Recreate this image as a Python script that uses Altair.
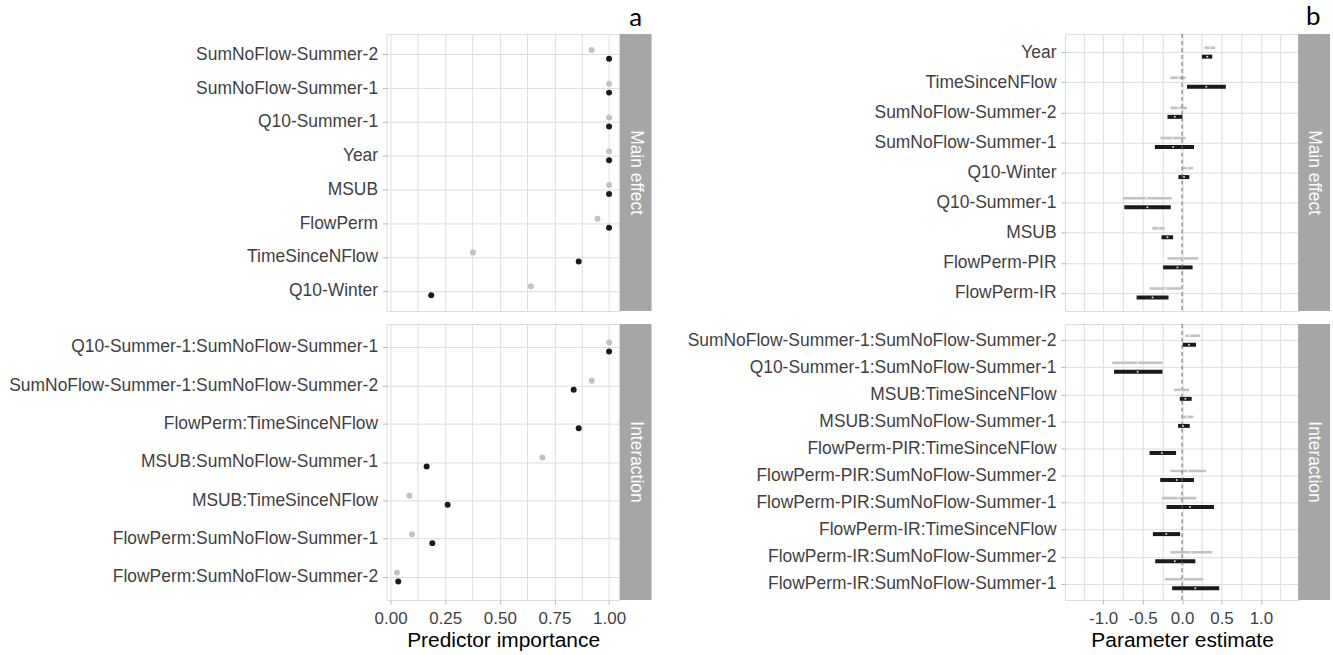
import altair as alt
import pandas as pd

# ---------------- data: panel a (predictor importance) ----------------
GROUPS = ["grey", "black"]

a_main_vars = ["SumNoFlow-Summer-2", "SumNoFlow-Summer-1", "Q10-Summer-1", "Year",
               "MSUB", "FlowPerm", "TimeSinceNFlow", "Q10-Winter"]
a_main_grey = [0.92, 1.0, 1.0, 1.0, 1.0, 0.947, 0.377, 0.642]
a_main_black = [1.0, 1.0, 1.0, 1.0, 1.0, 1.0, 0.861, 0.186]

a_int_vars = ["Q10-Summer-1:SumNoFlow-Summer-1", "SumNoFlow-Summer-1:SumNoFlow-Summer-2",
              "FlowPerm:TimeSinceNFlow", "MSUB:SumNoFlow-Summer-1", "MSUB:TimeSinceNFlow",
              "FlowPerm:SumNoFlow-Summer-1", "FlowPerm:SumNoFlow-Summer-2"]
a_int_grey = [1.0, 0.921, None, 0.695, 0.086, 0.098, 0.029]
a_int_black = [1.0, 0.838, 0.861, 0.165, 0.261, 0.191, 0.035]

a_ticks = [0.0, 0.125, 0.25, 0.375, 0.5, 0.625, 0.75, 0.875, 1.0]

# ---------------- data: panel b (parameter estimates) ----------------
b_main_vars = ["Year", "TimeSinceNFlow", "SumNoFlow-Summer-2", "SumNoFlow-Summer-1",
               "Q10-Winter", "Q10-Summer-1", "MSUB", "FlowPerm-PIR", "FlowPerm-IR"]
b_main_grey_est = [0.353, -0.05, -0.042, -0.12, 0.067, -0.45, -0.298, 0.004, -0.21]
b_main_grey_lo = [0.285, -0.147, -0.147, -0.273, 0.004, -0.749, -0.378, -0.185, -0.412]
b_main_grey_hi = [0.42, 0.046, 0.063, 0.046, 0.139, -0.131, -0.219, 0.206, -0.013]
b_main_black_est = [0.32, 0.307, -0.092, -0.113, 0.025, -0.44, -0.185, -0.059, -0.374]
b_main_black_lo = [0.252, 0.063, -0.185, -0.345, -0.046, -0.732, -0.26, -0.24, -0.576]
b_main_black_hi = [0.383, 0.555, 0.004, 0.151, 0.092, -0.143, -0.114, 0.134, -0.172]

b_int_vars = ["SumNoFlow-Summer-1:SumNoFlow-Summer-2", "Q10-Summer-1:SumNoFlow-Summer-1",
              "MSUB:TimeSinceNFlow", "MSUB:SumNoFlow-Summer-1", "FlowPerm-PIR:TimeSinceNFlow",
              "FlowPerm-PIR:SumNoFlow-Summer-2", "FlowPerm-PIR:SumNoFlow-Summer-1",
              "FlowPerm-IR:TimeSinceNFlow", "FlowPerm-IR:SumNoFlow-Summer-2",
              "FlowPerm-IR:SumNoFlow-Summer-1"]
b_int_grey_est = [0.095, -0.563, -0.008, 0.063, None, 0.076, -0.042, None, 0.109, 0.013]
b_int_grey_lo = [0.042, -0.883, -0.105, 0.004, None, -0.147, -0.252, None, -0.147, -0.219]
b_int_grey_hi = [0.227, -0.248, 0.088, 0.143, None, 0.303, 0.181, None, 0.383, 0.269]
b_int_black_est = [0.088, -0.563, 0.042, 0.013, -0.256, -0.067, 0.1, -0.2, -0.092, 0.168]
b_int_black_lo = [0.008, -0.862, -0.029, -0.05, -0.412, -0.277, -0.198, -0.37, -0.34, -0.126]
b_int_black_hi = [0.177, -0.248, 0.122, 0.097, -0.076, 0.151, 0.404, -0.025, 0.168, 0.471]

b_ticks = [-1.25, -1.0, -0.75, -0.5, -0.25, 0.0, 0.25, 0.5, 0.75, 1.0, 1.25]
b_ref = [0.0]

# ---------------- style ----------------
FONT = "Liberation Sans"
LABEL_COLOR = "#3F3F3F"
GRID = "#DEDEDE"
BORDER = "#B3B3B3"
STRIP = "#A6A6A6"
COL = ["#C2C2C2", "#1A1A1A"]
DOT_COL = ["#EEEEEE", "#DDDDDD"]
W = 234
H_MAIN = 278
H_INT = 277
FS = 17.5

grp_color = alt.Color("grp:N", scale=alt.Scale(domain=GROUPS, range=COL), legend=None)


def long_points(vars_, grey, black):
    rows = []
    for v, g, b in zip(vars_, grey, black):
        if g is not None:
            rows.append({"var": v, "grp": "grey", "value": g})
        if b is not None:
            rows.append({"var": v, "grp": "black", "value": b})
    return pd.DataFrame(rows)


def long_ranges(vars_, ge, gl, gh, be, bl, bh):
    rows = []
    for i, v in enumerate(vars_):
        if ge[i] is not None:
            rows.append({"var": v, "grp": "grey", "est": ge[i], "lo": gl[i], "hi": gh[i]})
        rows.append({"var": v, "grp": "black", "est": be[i], "lo": bl[i], "hi": bh[i]})
    return pd.DataFrame(rows)


def strip(label, h):
    sdf = pd.DataFrame({"label": [label]})
    rect = alt.Chart(sdf).mark_rect(color=STRIP).encode(
        x=alt.value(W), x2=alt.value(W + 32), y=alt.value(0), y2=alt.value(h))
    txt = alt.Chart(sdf).mark_text(angle=90, color="white", fontSize=FS, font=FONT,
                                   baseline="middle", align="center").encode(
        x=alt.value(W + 16), y=alt.value(h / 2), text="label:N")
    return rect, txt


def y_axis():
    return alt.Axis(labelFont=FONT, labelFontSize=FS, labelColor=LABEL_COLOR,
                    tickColor=BORDER, tickSize=4, labelPadding=5, grid=True,
                    domain=False, gridColor=GRID, labelLimit=600)


def y_enc(vars_):
    return alt.Y("var:N", sort=vars_, title=None,
                 scale=alt.Scale(type="point", padding=0.6), axis=y_axis())


def x_axis(ticks, bottom, major_test, label_expr, title):
    if bottom:
        return alt.Axis(values=ticks, title=title, labelExpr=label_expr,
                        labelFont=FONT, labelFontSize=17, labelColor=LABEL_COLOR,
                        titleFont=FONT, titleFontSize=21, titleFontWeight="normal",
                        titleColor="#000000", titlePadding=3, labelPadding=7,
                        tickColor=BORDER, tickSize=4,
                        tickOpacity={"condition": {"test": major_test, "value": 1}, "value": 0},
                        domain=False, grid=True, gridColor=GRID, labelFlush=False)
    return alt.Axis(values=ticks, title=None, labels=False, ticks=False, domain=False,
                    grid=True, gridColor=GRID)


A_MAJOR = "abs(datum.value*4 - round(datum.value*4)) < 0.001"
A_LABEL = "abs(datum.value*4 - round(datum.value*4)) < 0.001 ? format(datum.value, '.2f') : ''"
B_MAJOR = "abs(datum.value*2 - round(datum.value*2)) < 0.001"
B_LABEL = ("abs(datum.value*2 - round(datum.value*2)) < 0.001 ? "
           "(datum.value < 0 ? '-' + format(-datum.value, '.1f') : format(datum.value, '.1f')) : ''")


def panel_a(vars_, grey, black, h, label, bottom):
    df = long_points(vars_, grey, black)
    pts = alt.Chart(df).mark_circle(size=36, opacity=1).encode(
        x=alt.X("value:Q", scale=alt.Scale(domain=[-0.0185, 1.0485], nice=False, zero=False),
                axis=x_axis(a_ticks, bottom, A_MAJOR, A_LABEL, "Predictor importance")),
        y=y_enc(vars_),
        yOffset=alt.YOffset("grp:N", scale=alt.Scale(type="point", domain=GROUPS,
                                                      range=[-4.5, 4.5], padding=0)),
        color=grp_color,
    )
    r, t = strip(label, h)
    return alt.layer(pts, r, t).properties(width=W, height=h)


def panel_b(vars_, ge, gl, gh, be, bl, bh, h, label, bottom):
    df = long_ranges(vars_, ge, gl, gh, be, bl, bh)
    xs = alt.Scale(domain=[-1.484, 1.484], nice=False, zero=False)
    xax = x_axis(b_ticks, bottom, B_MAJOR, B_LABEL, "Parameter estimate")
    yoff = alt.YOffset("grp:N", scale=alt.Scale(type="point", domain=GROUPS,
                                                 range=[-4, 4], padding=0))
    bars = alt.Chart(df).mark_rule().encode(
        x=alt.X("lo:Q", scale=xs, axis=xax),
        x2="hi:Q",
        y=y_enc(vars_),
        yOffset=yoff,
        color=grp_color,
        strokeWidth=alt.StrokeWidth("grp:N", scale=alt.Scale(domain=GROUPS, range=[2.6, 4]),
                                    legend=None),
    )
    ref = alt.Chart(pd.DataFrame({"z": b_ref})).mark_rule(
        color="#666666", strokeDash=[4, 3], strokeWidth=1).encode(
        x=alt.X("z:Q", scale=xs, axis=xax))
    dots = alt.Chart(df).mark_circle(size=4, opacity=1).encode(
        x=alt.X("est:Q", scale=xs, axis=xax),
        y=alt.Y("var:N", sort=vars_, axis=y_axis(), title=None),
        yOffset=yoff,
        color=alt.Color("grp:N", scale=alt.Scale(domain=GROUPS, range=DOT_COL), legend=None),
    )
    r, t = strip(label, h)
    return alt.layer(bars, ref, dots, r, t).properties(width=W + 1, height=h).resolve_scale(
        color="independent")


title_style = dict(anchor="end", fontSize=26, font="Lato", fontWeight="normal",
                   color="#000000", offset=3, dx=-10)

left = alt.vconcat(
    panel_a(a_main_vars, a_main_grey, a_main_black, H_MAIN, "Main effect", False),
    panel_a(a_int_vars, a_int_grey, a_int_black, H_INT, "Interaction", True),
    spacing=11,
).properties(title=alt.TitleParams("a", **title_style))

right = alt.vconcat(
    panel_b(b_main_vars, b_main_grey_est, b_main_grey_lo, b_main_grey_hi,
            b_main_black_est, b_main_black_lo, b_main_black_hi, H_MAIN, "Main effect", False),
    panel_b(b_int_vars, b_int_grey_est, b_int_grey_lo, b_int_grey_hi,
            b_int_black_est, b_int_black_lo, b_int_black_hi, H_INT, "Interaction", True),
    spacing=11,
).properties(title=alt.TitleParams("b", **title_style))

chart = alt.hconcat(left, right, spacing=34).properties(
    padding={"left": 8, "top": 3, "right": 2, "bottom": 2}
).configure_view(stroke=BORDER, strokeWidth=1).configure(background="white")

chart.save("out.html", embed_options={"renderer": "svg", "actions": False})
